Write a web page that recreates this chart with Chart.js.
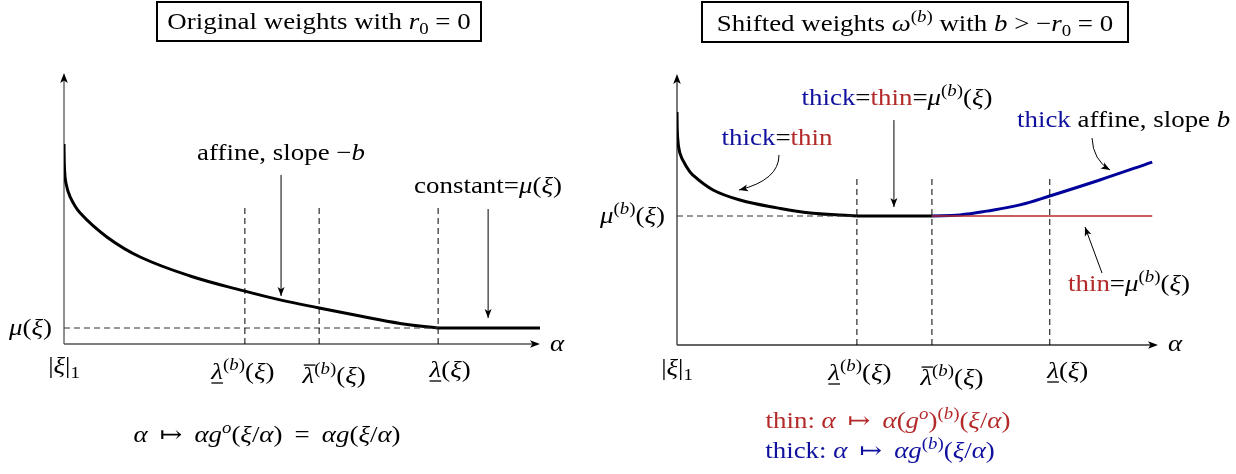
<!DOCTYPE html>
<html>
<head>
<meta charset="utf-8">
<script src="https://cdn.jsdelivr.net/npm/chart.js@4.4.1/dist/chart.umd.min.js"></script>
<style>
  body { margin: 0; background: #fff; }
  canvas { position: absolute; top: 0; }
</style>
</head>
<body>
<canvas id="leftChart" width="620" height="474" style="left:0"></canvas>
<canvas id="rightChart" width="676" height="474" style="left:560px"></canvas>
<script>
// LEFT PANEL DATA (axis units 0..10 on both axes)
const leftAlpha  = [0, 0.01, 0.04, 0.13, 0.34, 0.9, 1.6, 2.65, 3.78, 4.56, 5.36, 6.22, 7.06, 7.86];
const leftWeight = [7.38, 6.49, 5.94, 5.42, 4.83, 3.95, 3.21, 2.51, 1.96, 1.62, 1.33, 1.03, 0.76, 0.59];
const leftMu = 0.59;
const leftMarks = [3.8, 5.36, 7.86];      // lambda^(b), bar-lambda^(b), lambda
const leftMarkTop = 5.02;

// RIGHT PANEL DATA
const rightAlpha  = [0, 0.01, 0.06, 0.19, 0.33, 0.75, 1.31, 2.08, 2.77, 3.74];
const rightWeight = [8.6, 7.75, 7.08, 6.6, 6.27, 5.72, 5.35, 5.06, 4.87, 4.76];
const thickAlpha  = [5.3, 5.88, 6.44, 7.13, 7.75, 8.79, 9.88];
const thickWeight = [4.76, 4.8, 4.94, 5.17, 5.5, 6.09, 6.75];
const thinAlpha   = [5.3, 9.88];
const rightMu = 4.76;
const rightMarks = [3.74, 5.3, 7.75];
const rightMarkTop = 6.2;
const axisEnd = 10;

// TICK LABELS (rich text parts: [text, flags]; i=italic ^=sup _=sub u=underline o=overline R=red B=blue)
const SUPB = [['(', '^'], ['b', '^i'], [')', '^']];
const XI = [['(', ''], ['ξ', 'i'], [')', '']];
const xTickLabels = [
  [['|', ''], ['ξ', 'i'], ['|', ''], ['1', '_']],
  [['λ', 'iu'], ...SUPB, ...XI],
  [['λ', 'io'], ...SUPB, ...XI],
  [['λ', 'iu'], ...XI]
];

const RED = '#b42a2a';
const BLUE = '#10109e';
const LINE_BLUE = '#00009a';
const FONT = '"Liberation Serif", "DejaVu Serif", serif';
const SIZE = 23;
const STRETCH = 1.17;
const MAPSTO = '\u2009↦\u2009';

function pts(xs, ys) { return xs.map((x, i) => ({ x: x, y: ys[i] })); }

function rich(ctx, parts, x, y, align, size) {
  size = size || SIZE;
  const seg = parts.map(([t, f]) => {
    const small = f.includes('^') || f.includes('_');
    const s = small ? size * 0.7 : size;
    const font = (f.includes('i') ? 'italic ' : '') + s + 'px ' + FONT;
    ctx.font = font;
    return { t, f, font, w: ctx.measureText(t).width };
  });
  const total = seg.reduce((a, b) => a + b.w, 0) * STRETCH;
  const sx = align === 'center' ? x - total / 2 : align === 'right' ? x - total : x;
  ctx.save();
  ctx.translate(sx, y);
  ctx.scale(STRETCH, 1);
  ctx.textBaseline = 'alphabetic';
  ctx.textAlign = 'left';
  let cx = 0;
  seg.forEach(g => {
    ctx.font = g.font;
    const col = g.f.includes('R') ? RED : g.f.includes('B') ? BLUE : '#000';
    ctx.fillStyle = col;
    const dy = g.f.includes('^') ? -size * 0.4 : g.f.includes('_') ? size * 0.2 : 0;
    ctx.fillText(g.t, cx, dy);
    ctx.strokeStyle = col;
    ctx.lineWidth = 1.3;
    if (g.f.includes('u')) { ctx.beginPath(); ctx.moveTo(cx, 4); ctx.lineTo(cx + g.w, 4); ctx.stroke(); }
    if (g.f.includes('o')) { ctx.beginPath(); ctx.moveTo(cx + 1, -size * 0.78); ctx.lineTo(cx + g.w + 1, -size * 0.78); ctx.stroke(); }
    cx += g.w;
  });
  ctx.restore();
  return total;
}

function head(ctx, x1, y1, x2, y2, len, wid) {
  const a = Math.atan2(y2 - y1, x2 - x1);
  ctx.save();
  ctx.translate(x2, y2);
  ctx.rotate(a);
  ctx.beginPath();
  ctx.moveTo(0, 0);
  ctx.lineTo(-len, wid);
  ctx.lineTo(-len * 0.75, 0);
  ctx.lineTo(-len, -wid);
  ctx.closePath();
  ctx.fill();
  ctx.restore();
}

function arrow(ctx, x1, y1, x2, y2, cx, cy) {
  ctx.strokeStyle = '#000';
  ctx.fillStyle = '#000';
  ctx.lineWidth = 1;
  ctx.beginPath();
  ctx.moveTo(x1, y1);
  if (cx !== undefined) ctx.quadraticCurveTo(cx, cy, x2, y2); else ctx.lineTo(x2, y2);
  ctx.stroke();
  if (cx !== undefined) head(ctx, cx, cy, x2, y2, 9, 3.5); else head(ctx, x1, y1, x2, y2, 9, 3.5);
}

function drawAxes(chart, color) {
  const ctx = chart.ctx, xs = chart.scales.x, ys = chart.scales.y;
  const x0 = xs.getPixelForValue(0), y0 = ys.getPixelForValue(0);
  const xe = xs.getPixelForValue(axisEnd), ye = ys.getPixelForValue(axisEnd);
  ctx.save();
  ctx.strokeStyle = color;
  ctx.fillStyle = '#000';
  ctx.lineWidth = 1.3;
  ctx.beginPath();
  ctx.moveTo(x0, y0); ctx.lineTo(xe - 6, y0);
  ctx.moveTo(x0, y0); ctx.lineTo(x0, ye + 6);
  ctx.stroke();
  head(ctx, x0, y0, xe, y0, 10, 3.8);
  head(ctx, x0, y0, x0, ye, 10, 3.8);
  ctx.restore();
}

function drawBox(ctx, parts, cx, y, x1, y1, x2, y2) {
  ctx.save();
  ctx.strokeStyle = '#000';
  ctx.lineWidth = 2;
  ctx.strokeRect(x1, y1, x2 - x1, y2 - y1);
  rich(ctx, parts, cx, y, 'center');
  ctx.restore();
}

function ticks(chart, marks, dxs, ys) {
  const ctx = chart.ctx, xs = chart.scales.x;
  const all = [0, ...marks];
  all.forEach((m, i) => rich(ctx, xTickLabels[i], xs.getPixelForValue(m) + dxs[i], ys[i], 'center'));
}

const leftPlugin = {
  id: 'leftDeco',
  beforeDatasetsDraw(chart) { drawAxes(chart, '#555'); },
  afterDatasetsDraw(chart) {
    const ctx = chart.ctx, xs = chart.scales.x, ys = chart.scales.y;
    const P = (x, y) => [xs.getPixelForValue(x), ys.getPixelForValue(y)];
    ctx.save();
    drawBox(ctx, [['Original weights with ', ''], ['r', 'i'], ['0', '_'], [' = 0', '']], 319, 29, 157, 2, 481, 41);
    rich(ctx, [['affine, slope ', ''], ['−', ''], ['b', 'i']], 281, 160, 'center');
    rich(ctx, [['constant=', ''], ['μ', 'i'], ...XI], 488, 193, 'center');
    let a = P(4.56, 6.24), b = P(4.56, 1.77);
    arrow(ctx, a[0], a[1], b[0], b[1]);
    a = P(8.91, 4.98); b = P(8.91, 0.96);
    arrow(ctx, a[0], a[1], b[0], b[1]);
    rich(ctx, [['μ', 'i'], ...XI], 52, ys.getPixelForValue(leftMu) + 7, 'right');
    rich(ctx, [['α', 'i']], 550, 351, 'left');
    ticks(chart, leftMarks, [0, -2, 15, 12], [373, 379, 383, 377]);
    rich(ctx, [['α ' + MAPSTO + ' α', 'i'], ['g', 'i'], ['o', '^i'], ['(', ''], ['ξ', 'i'], ['/', ''], ['α', 'i'], [')\u2009 = \u2009', ''], ['αg', 'i'], ['(', ''], ['ξ', 'i'], ['/', ''], ['α', 'i'], [')', '']], 267, 442, 'center');
    ctx.restore();
  }
};

const rightPlugin = {
  id: 'rightDeco',
  beforeDatasetsDraw(chart) { drawAxes(chart, '#333'); },
  afterDatasetsDraw(chart) {
    const ctx = chart.ctx, xs = chart.scales.x, ys = chart.scales.y;
    const o = 560;
    ctx.save();
    drawBox(ctx, [['Shifted weights ', ''], ['ω', 'i'], ...SUPB, [' with ', ''], ['b', 'i'], [' > −', ''], ['r', 'i'], ['0', '_'], [' = 0', '']], 915 - o, 31, 702 - o, 2, 1128 - o, 42);
    rich(ctx, [['thick', 'B'], ['=', ''], ['thin', 'R']], 777 - o, 145, 'center');
    rich(ctx, [['thick', 'B'], ['=', ''], ['thin', 'R'], ['=', ''], ['μ', 'i'], ...SUPB, ...XI], 897 - o, 105, 'center');
    rich(ctx, [['thick', 'B'], [' affine, slope ', ''], ['b', 'i']], 1017 - o, 127, 'left');
    rich(ctx, [['thin', 'R'], ['=', ''], ['μ', 'i'], ...SUPB, ...XI], 1068 - o, 291, 'left');
    rich(ctx, [['μ', 'i'], ...SUPB, ...XI], 665 - o, ys.getPixelForValue(rightMu) + 7, 'right');
    rich(ctx, [['α', 'i']], 1168 - o, 351, 'left');
    ticks(chart, rightMarks, [0, 3, 20, 18], [375, 380, 385, 378]);
    arrow(ctx, 779 - o, 155, 739 - o, 190, 779 - o, 180);
    arrow(ctx, 1092 - o, 138, 1110 - o, 170, 1093 - o, 160);
    arrow(ctx, 1102 - o, 273, 1085 - o, 227);
    const sx = xs.getPixelForValue(4.51);
    arrow(ctx, sx, ys.getPixelForValue(8.3), sx, ys.getPixelForValue(5.09));
    rich(ctx, [['thin: ', 'R'], ['α ' + MAPSTO + ' α', 'iR'], ['(', 'R'], ['g', 'iR'], ['o', '^iR'], [')', 'R'], ['(', '^R'], ['b', '^iR'], [')', '^R'], ['(', 'R'], ['ξ', 'iR'], ['/', 'R'], ['α', 'iR'], [')', 'R']], 888 - o, 428, 'center');
    rich(ctx, [['thick: ', 'B'], ['α ' + MAPSTO + ' αg', 'iB'], ['(', '^B'], ['b', '^iB'], [')', '^B'], ['(', 'B'], ['ξ', 'iB'], ['/', 'B'], ['α', 'iB'], [')', 'B']], 880 - o, 458, 'center');
    ctx.restore();
  }
};

function dashedSets(marks, top, mu, muEnd) {
  const sets = marks.map(m => ({
    data: [{ x: m, y: 0 }, { x: m, y: top }],
    borderColor: '#000', borderWidth: 1, borderDash: [6, 4], pointRadius: 0
  }));
  sets.push({
    data: [{ x: 0, y: mu }, { x: muEnd, y: mu }],
    borderColor: '#333', borderWidth: 1, borderDash: [6, 4], pointRadius: 0
  });
  return sets;
}

function baseOptions(pad) {
  return {
    responsive: false,
    animation: false,
    devicePixelRatio: 1,
    layout: { padding: pad, autoPadding: false },
    plugins: { legend: { display: false }, tooltip: { enabled: false } },
    scales: {
      x: { type: 'linear', min: 0, max: 10, display: false },
      y: { type: 'linear', min: 0, max: 10, display: false }
    }
  };
}

const curveStyle = { borderWidth: 3, pointRadius: 0, tension: 0.4, borderJoinStyle: 'round', borderCapStyle: 'butt' };
const flatStyle = { borderWidth: 3, pointRadius: 0 };

// LEFT CHART
new Chart(document.getElementById('leftChart'), {
  type: 'line',
  data: {
    datasets: [
      ...dashedSets(leftMarks, leftMarkTop, leftMu, leftMarks[2]),
      { data: pts(leftAlpha, leftWeight), borderColor: '#000', ...curveStyle },
      { data: pts([leftMarks[2], axisEnd], [leftMu, leftMu]), borderColor: '#000', ...flatStyle }
    ]
  },
  options: baseOptions({ left: 64, right: 80, top: 73, bottom: 130 }),
  plugins: [leftPlugin]
});

// RIGHT CHART
new Chart(document.getElementById('rightChart'), {
  type: 'line',
  data: {
    datasets: [
      ...dashedSets(rightMarks, rightMarkTop, rightMu, rightMarks[0]),
      { data: pts(thinAlpha, [rightMu, rightMu]), borderColor: RED, borderWidth: 1.3, pointRadius: 0 },
      { data: pts(thickAlpha, thickWeight), borderColor: LINE_BLUE, ...curveStyle },
      { data: pts(rightAlpha, rightWeight), borderColor: '#000', ...curveStyle },
      { data: pts([rightMarks[0], rightMarks[1]], [rightMu, rightMu]), borderColor: '#000', ...flatStyle }
    ]
  },
  options: baseOptions({ left: 117, right: 78, top: 74, bottom: 129 }),
  plugins: [rightPlugin]
});
</script>
</body>
</html>
